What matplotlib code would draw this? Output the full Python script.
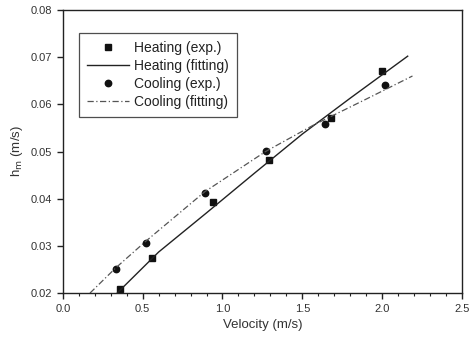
import matplotlib.pyplot as plt
import numpy as np

plt.rcParams['font.family'] = ['Liberation Sans', 'DejaVu Sans']

# measured points
heat_v = [0.36, 0.556, 0.94, 1.29, 1.68, 2.0]
heat_h = [0.0208, 0.0275, 0.0392, 0.0483, 0.0572, 0.0670]
cool_v = [0.33, 0.52, 0.89, 1.27, 1.64, 2.02]
cool_h = [0.0250, 0.0306, 0.0413, 0.0502, 0.0558, 0.0641]

# fitted curves
heat_fit_v = [0.34, 0.6, 0.9, 1.2, 1.5, 1.8, 2.16]
heat_fit_h = [0.0200, 0.0287, 0.0370, 0.0454, 0.0537, 0.0613, 0.0702]
cool_fit_v = [0.17, 0.33, 0.52, 0.89, 1.27, 1.57, 1.9, 2.19]
cool_fit_h = [0.0200, 0.0253, 0.0310, 0.0415, 0.0500, 0.0556, 0.0611, 0.0660]

fig = plt.figure(figsize=(4.69, 3.42), dpi=100)
ax = fig.add_axes([0.134, 0.143, 0.851, 0.828])

ax.plot(heat_v, heat_h, 's', color='#111111', ms=4.2, label='Heating (exp.)')
ax.plot(heat_fit_v, heat_fit_h, '-', color='#222222', lw=1.0, label='Heating (fitting)')
ax.plot(cool_v, cool_h, 'o', color='#111111', ms=4.6, label='Cooling (exp.)')
ax.plot(cool_fit_v, cool_fit_h, linestyle=(0, (5, 2, 1, 2)), color='#555555', lw=0.9,
        label='Cooling (fitting)')

ax.set_xlim(0, 2.5)
ax.set_ylim(0.02, 0.08)
ax.set_xticks(np.arange(0, 2.51, 0.5))
ax.set_xticks(np.arange(0, 2.51, 0.1), minor=True)
ax.set_yticks(np.arange(0.02, 0.081, 0.01))
ax.xaxis.set_major_formatter(plt.FormatStrFormatter('%.1f'))
ax.yaxis.set_major_formatter(plt.FormatStrFormatter('%.2f'))
ax.tick_params(axis='both', which='major', direction='out', length=4, width=1,
               labelsize=8, colors='#222222', labelcolor='#333333')
ax.tick_params(axis='x', which='minor', direction='out', length=2.5, width=0.8, colors='#222222')
for s in ax.spines.values():
    s.set_color('#222222')
    s.set_linewidth(1.0)

ax.set_xlabel('Velocity (m/s)', fontsize=9.5, color='#333333', labelpad=4)
ax.set_ylabel(r'h$_\mathrm{m}$ (m/s)', fontsize=9.5, color='#333333', labelpad=4)

leg = ax.legend(loc='upper left', bbox_to_anchor=(0.04, 0.92), fontsize=10,
                handlelength=3.0, frameon=True, fancybox=False, edgecolor='#222222',
                borderpad=0.6, labelspacing=0.28, handletextpad=0.4, borderaxespad=0)
leg.get_frame().set_linewidth(0.9)
for t in leg.get_texts():
    t.set_color('#222222')

fig.savefig('out.png', dpi=100)
